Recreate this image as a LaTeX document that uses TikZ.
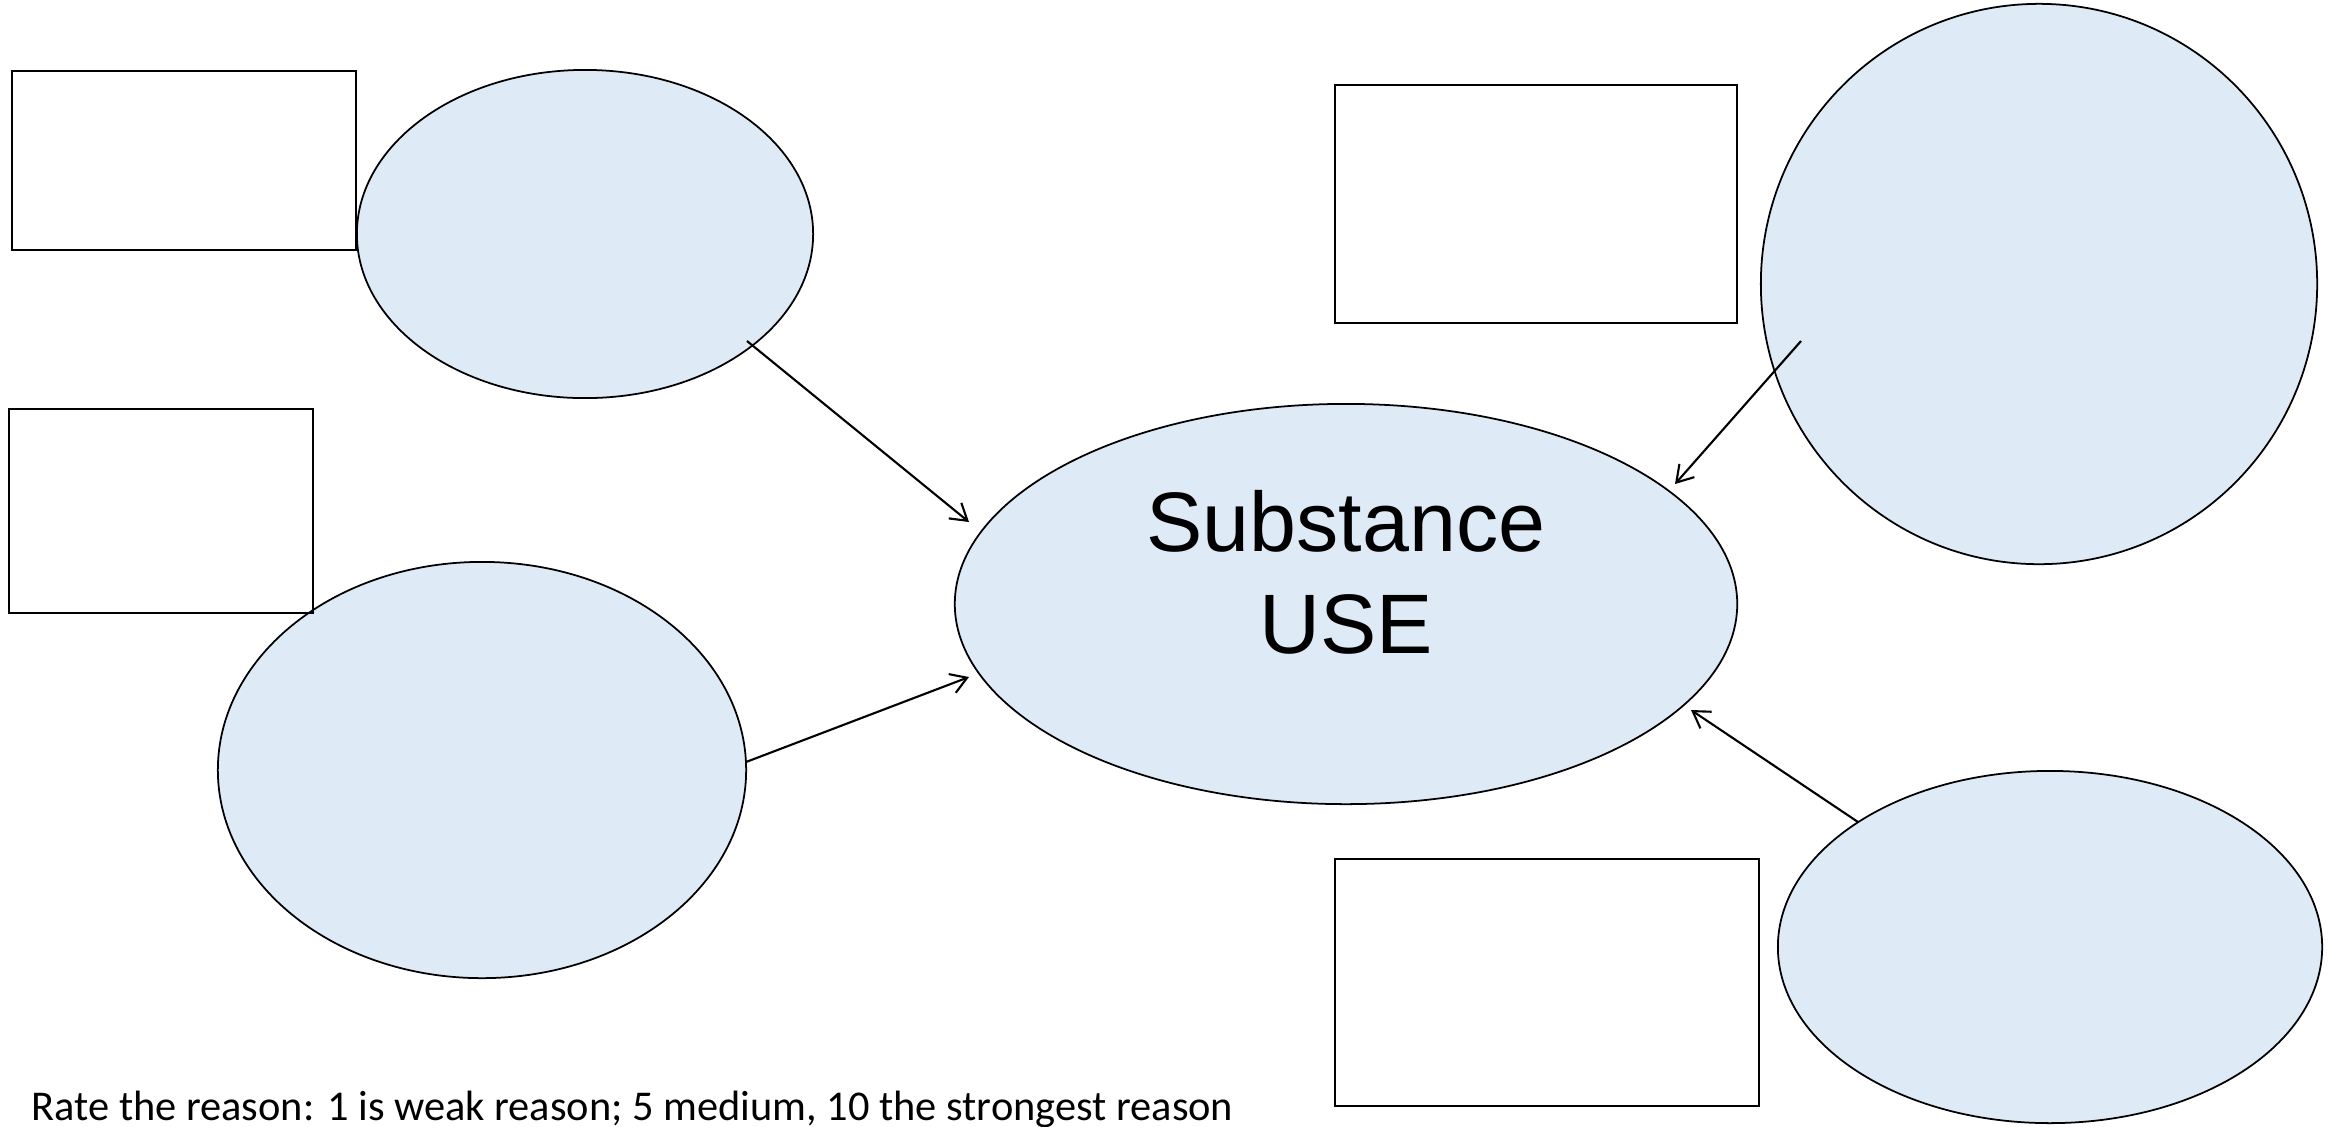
\documentclass[tikz,border=0pt]{standalone}
\usepackage{fontspec}
\setmainfont{Liberation Sans}
\newfontfamily\notefont{Carlito}
\usetikzlibrary{shapes.geometric,arrows.meta}
\definecolor{reasonblue}{RGB}{222,234,246}
\begin{document}
\begin{tikzpicture}[x={(0.01cm,0)}, y={(0,-0.01cm)},
  reason/.style={ellipse, draw, line width=0.5pt, fill=reasonblue, inner sep=0pt},
  scorebox/.style={rectangle, draw, line width=0.7pt, inner sep=0pt},
  link/.style={-{Straight Barb[length=1.6mm,width=2mm]}, line width=0.6pt}]
\useasboundingbox (0,0) rectangle (2334,1126);
% nodes
\node[reason, minimum width=7.82cm, minimum height=4cm] (use) at (1346, 604) {};
\node[font=\fontsize{24}{29}\selectfont, align=center, inner sep=0pt] (usetext) at (1346, 572) {Substance\\USE};
\node[reason, minimum width=4.56cm, minimum height=3.28cm] (r1) at (585, 234) {};
\node[reason, minimum width=5.28cm, minimum height=4.16cm] (r2) at (482, 770) {};
\node[reason, minimum width=5.56cm, minimum height=5.6cm] (r3) at (2039, 284) {};
\node[reason, minimum width=5.44cm, minimum height=3.52cm] (r4) at (2050, 947) {};
\node[scorebox, minimum width=3.44cm, minimum height=1.79cm] (s1) at (184, 160.5) {};
\node[scorebox, minimum width=3.04cm, minimum height=2.04cm] (s2) at (161, 511) {};
\node[scorebox, minimum width=4.02cm, minimum height=2.38cm] (s3) at (1536, 204) {};
\node[scorebox, minimum width=4.24cm, minimum height=2.47cm] (s4) at (1547, 982.5) {};
\node[font=\notefont\fontsize{12.06}{14}\selectfont, anchor=base west, inner sep=0pt] (note) at (31, 1120) {Rate the reason: 1 is weak reason; 5 medium, 10 the strongest reason};
% arrows
\draw[link] ([shift={(162,107)}]r1.center) -- ([shift={(-377,-82)}]use.center);
\draw[link] ([shift={(264,-8)}]r2.center) -- ([shift={(-377,73)}]use.center);
\draw[link] ([shift={(-238,57)}]r3.center) -- ([shift={(329,-120)}]use.center);
\draw[link] ([shift={(-192,-125)}]r4.center) -- ([shift={(345,106)}]use.center);
\end{tikzpicture}
\end{document}
